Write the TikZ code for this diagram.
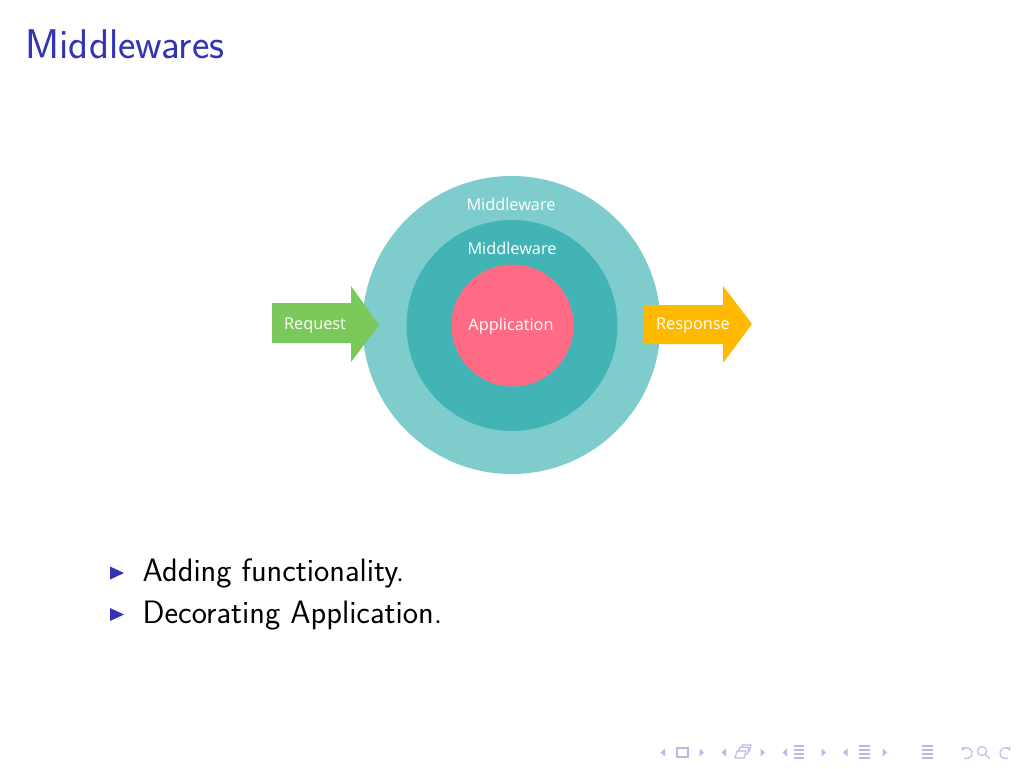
\documentclass[tikz,border=0pt]{standalone}
\usepackage{fontspec}
\newfontfamily\diafont{Open Sans}
\usetikzlibrary{arrows.meta}
\definecolor{outerc}{HTML}{7ECCCB}
\definecolor{midc}{HTML}{42B4B5}
\definecolor{appc}{HTML}{FF6B84}
\definecolor{reqc}{HTML}{7AC95A}
\definecolor{resc}{HTML}{FFBA00}
\definecolor{struct}{RGB}{51,51,179}
\definecolor{navc}{RGB}{185,185,232}
\tikzset{
  ring/.style={circle,inner sep=0pt,draw=none},
  dlabel/.style={text=white,font=\diafont\fontsize{16.3}{19}\selectfont,inner sep=0pt},
  bodytext/.style={anchor=base west,inner sep=0pt,font=\sffamily\fontsize{32.4}{38}\selectfont},
  nav/.style={navc,line width=1.1pt},
}
\begin{document}
\begin{tikzpicture}[x=1pt,y=-1pt]
\useasboundingbox[fill=white] (0,0) rectangle (1024,768);
% title
\node[anchor=base west,inner sep=0pt,text=struct,font=\sffamily\fontsize{41.5}{48}\selectfont] (title) at (25.5,59) {Middlewares};
% circles
\node[ring,fill=outerc,minimum size=298pt] (outer) at (511.5,325) {};
\node[ring,fill=midc,minimum size=211pt] (mid) at (512,325.5) {};
\node[ring,fill=appc,minimum size=122pt] (app) at (512.5,325.5) {};
\node[dlabel] (l1) at (511,204) {Middleware};
\node[dlabel] (l2) at (512,248.5) {Middleware};
\node[dlabel] (l3) at (511,326.5) {Application};
% arrows
\fill[reqc] (272,303) -- (351,303) -- (351,286) -- (379,325) -- (351,362) -- (351,343) -- (272,343) -- cycle;
\fill[resc] (644,305) -- (723,305) -- (723,286) -- (752,324) -- (723,363) -- (723,344) -- (644,344) -- cycle;
\node[dlabel] (req) at (315,325.5) {Request};
\node[dlabel] (res) at (693,325.5) {Response};
% bullets
\fill[struct] (110,566.5) -- (124,573) -- (110,579.5) -- cycle;
\fill[struct] (110,608) -- (124,614.5) -- (110,621) -- cycle;
\node[bodytext] (b1) at (142.5,581.7) {Adding functionality.};
\node[bodytext] (b2) at (142.5,623.3) {Decorating Application.};
% navigation symbols
\fill[navc] (665,748.5) -- (660.5,752.5) -- (665,756.5) -- cycle;
\draw[nav] (677,748) rectangle (688,757);
\fill[navc] (699.5,748.5) -- (704,752.5) -- (699.5,756.5) -- cycle;
\fill[navc] (726,748.5) -- (721.5,752.5) -- (726,756.5) -- cycle;
\draw[nav] (735,758) -- (744,758) -- (746,751) -- (737,751) -- cycle;
\draw[nav] (738.5,751) -- (740,747.5) -- (749,747.5) -- (747.5,754) -- (745.5,754);
\draw[nav] (741.5,747.5) -- (742.5,745) -- (751,745) -- (749.5,751) -- (748.5,751);
\fill[navc] (760.5,748.5) -- (765,752.5) -- (760.5,756.5) -- cycle;
\fill[navc] (787,748.5) -- (782.5,752.5) -- (787,756.5) -- cycle;
\draw[nav] (794,746) -- (804,746) (794,750) -- (804,750) (794,754) -- (804,754) (794,758) -- (804,758);
\fill[navc] (821.5,748.5) -- (826,752.5) -- (821.5,756.5) -- cycle;
\fill[navc] (847.5,748.5) -- (843,752.5) -- (847.5,756.5) -- cycle;
\draw[nav] (859,746) -- (870,746) (859,750) -- (870,750) (859,754) -- (870,754) (859,758) -- (870,758);
\fill[navc] (882.5,748.5) -- (887,752.5) -- (882.5,756.5) -- cycle;
\draw[nav] (922,746) -- (933,746) (922,750) -- (933,750) (922,754) -- (933,754) (922,758) -- (933,758);
\draw[nav,-{Stealth[length=4pt,width=5pt]}] (964,758) arc[start angle=-120,end angle=150,radius=5.5pt];
\draw[nav] (982,751) circle[radius=4.5pt];
\draw[nav] (985.5,754.5) -- (989.5,758.5);
\draw[nav,-{Stealth[length=4pt,width=5pt]}] (1008,758) arc[start angle=-60,end angle=-330,radius=5.5pt];
\end{tikzpicture}
\end{document}
